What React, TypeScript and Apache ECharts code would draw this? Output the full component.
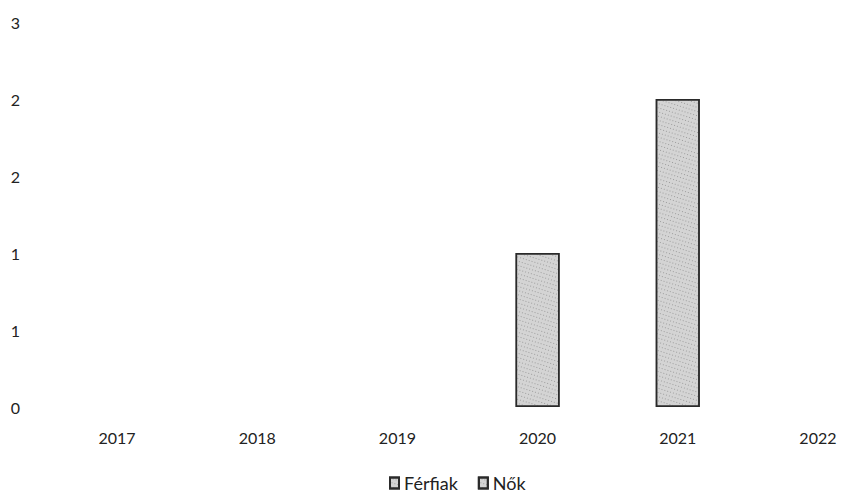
import React, { useEffect, useRef } from "react";
import * as echarts from "echarts";

const categories = ["2017", "2018", "2019", "2020", "2021", "2022"];
const seriesNames = ["Férfiak", "Nők"];
const ferfiakValues = [0, 0, 0, 1, 2, 0];
const nokValues = [0, 0, 0, 0, 0, 0];

const hideZero = (arr: number[]) => arr.map((v) => (v === 0 ? null : v));

export default function App() {
  const ref = useRef<HTMLDivElement>(null);
  useEffect(() => {
    if (!ref.current) return;
    const chart = echarts.init(ref.current, undefined, { renderer: "svg" });
    const fontFamily = "Lato, 'Open Sans', sans-serif";
    const barStyle = {
      color: "#d4d4d4",
      borderColor: "#2a2a2a",
      borderWidth: 1.5,
      decal: {
        symbol: "rect",
        symbolSize: 1,
        color: "rgba(90,90,90,0.45)",
        dashArrayX: [1, 2],
        dashArrayY: [1, 3],
        rotation: 0.3,
      },
    };
    chart.setOption({
      animation: false,
      backgroundColor: "#ffffff",
      grid: { left: 47, top: 22, width: 841, height: 385, outerBoundsMode: "none", containLabel: false },
      legend: {
        data: seriesNames,
        bottom: 5,
        left: 384,
        itemWidth: 9,
        itemHeight: 11,
        itemGap: 20,
        icon: "rect",
        textStyle: { fontFamily, fontSize: 18, color: "#222" },
      },
      xAxis: {
        type: "category",
        data: categories,
        axisLine: { show: false },
        axisTick: { show: false },
        axisLabel: { fontFamily, fontSize: 16, color: "#222", margin: 22 },
      },
      yAxis: {
        type: "value",
        min: 0,
        max: 2.5,
        interval: 0.5,
        axisLine: { show: false },
        axisTick: { show: false },
        splitLine: { show: false },
        axisLabel: {
          fontFamily,
          fontSize: 16,
          color: "#222",
          margin: 27,
          formatter: (v: number) => String(Math.round(v)),
        },
      },
      series: [
        {
          name: seriesNames[0],
          type: "bar",
          stack: "total",
          barWidth: 44,
          data: hideZero(ferfiakValues),
          itemStyle: barStyle,
        },
        {
          name: seriesNames[1],
          type: "bar",
          stack: "total",
          barWidth: 44,
          data: hideZero(nokValues),
          itemStyle: barStyle,
        },
      ],
    });
    return () => chart.dispose();
  }, []);
  return <div ref={ref} style={{ width: 854, height: 502, position: "absolute", left: 0, top: 0 }} />;
}
